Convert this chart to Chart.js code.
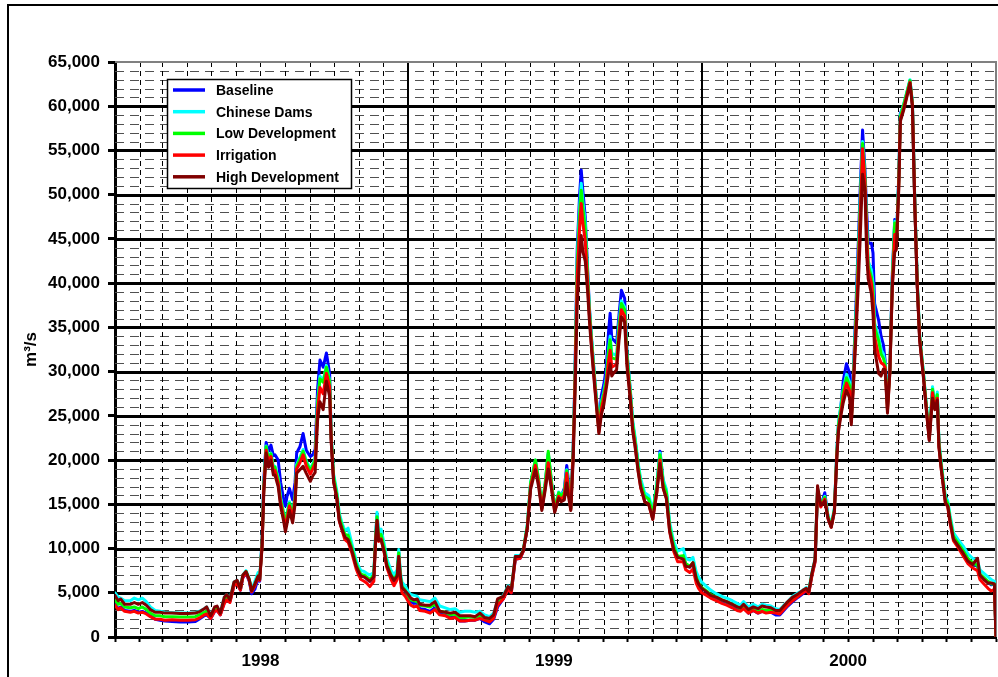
<!DOCTYPE html>
<html>
<head>
<meta charset="utf-8">
<title>Mekong discharge scenarios 1998-2000</title>
<script src="https://cdn.jsdelivr.net/npm/chart.js@4"></script>
<style>
  html, body { margin: 0; padding: 0; background: #fff; }
  canvas { display: block; }
</style>
</head>
<body>
<canvas id="flow" width="998" height="677"></canvas>
<script>
// Day number counted from 1 January 1998
const days = [
  0,4,7,12,19,24,29,34,39,44,
  50,56,62,71,81,91,100,106,111,114,
  119,124,127,131,136,139,143,148,152,156,
  159,163,167,170,174,178,180,183,185,188,
  191,194,197,199,203,206,210,212,214,217,
  221,224,226,230,234,238,243,246,249,252,
  255,259,263,267,269,272,276,279,282,286,
  290,294,297,300,303,306,310,313,317,322,
  324,326,328,331,335,338,343,347,351,353,
  355,357,361,365,
  368,372,376,379,386,392,398,404,411,417,
  423,429,435,442,448,454,460,466,471,476,
  483,489,493,498,504,508,513,517,523,527,
  531,535,539,543,547,552,555,559,562,564,
  567,570,572,575,578,580,582,585,588,590,
  593,597,602,605,608,611,614,616,618,620,
  624,627,630,634,637,641,644,647,651,654,
  659,664,669,674,678,682,686,690,695,700,
  707,710,715,719,723,726,730,
  736,741,748,755,761,768,774,778,782,788,
  794,800,805,810,816,822,827,832,837,843,
  850,856,860,863,867,871,874,878,881,883,
  887,891,895,898,900,903,906,910,914,916,
  919,922,925,927,930,933,935,937,941,943,
  945,950,953,956,958,961,964,967,970,972,
  975,977,981,985,989,992,995,998,1001,1006,
  1010,1013,1017,1020,1023,1025,1028,1033,1036,1039,
  1043,1049,1055,1061,1067,1073,1076,1081,1086,1090,
  1094,1096
];

// Discharge, m3/s
const baseline = [
  3700,3200,3400,3000,2900,3000,2800,2900,2700,2400,
  2000,1900,1800,1750,1700,1700,1750,2100,2400,2500,
  2100,2900,3000,2500,3900,4200,4000,5800,6100,5300,
  6700,7200,6300,4900,5400,6600,6300,11000,17500,22000,
  21000,21700,20500,20600,20000,17500,15500,14800,15900,16800,
  15500,17500,20800,21500,23000,21100,20400,20600,21200,28000,
  31300,30500,32100,29800,22500,17800,15800,13300,12300,11300,
  11000,10000,9000,8000,7400,6900,6800,6600,6300,6800,
  11000,13900,11300,11800,10000,8400,7100,6400,7000,9600,
  7000,5600,5200,4500,
  4000,3800,3900,3200,3100,2900,3300,2600,2500,2200,
  2300,1800,1800,1900,1900,2100,1700,1500,2000,3400,
  4300,5500,5000,8800,8900,9700,12500,17200,19600,17600,
  14600,17000,20700,17400,14400,16300,15900,16800,19400,17700,
  14600,21500,28800,43800,50000,52800,50500,47500,41500,37500,
  33500,28800,23800,27300,28500,30300,34500,36600,33800,33600,
  33200,36400,39200,38300,32000,27900,24200,22300,19300,17500,
  15900,15600,13900,17000,21000,17500,16300,12500,10300,9000,
  9100,8200,7900,8300,6700,6000,5500,
  5100,4700,4400,4100,3900,3600,3300,3000,3300,2700,
  3000,2700,2900,2800,2800,2500,2500,3000,3500,4000,
  4500,4900,5300,5000,7000,8600,16500,14800,15700,16300,
  13600,12500,14400,21000,24000,26000,29000,30900,29800,24800,
  31000,38000,45300,50500,57300,52800,48300,44500,44500,43400,
  37700,35800,34000,33000,31300,26500,30500,41000,47200,44500,
  52000,59200,60000,61400,62900,60300,49000,40000,33900,29400,
  25300,22500,27900,26000,27300,21800,19200,15500,15000,13200,
  11300,10500,9700,8800,8300,8000,7000,6600,6200,5900,
  6000,0
];

const chineseDams = [
  5000,4500,4400,4100,4100,4400,4200,4400,4000,3400,
  3000,2900,2800,2750,2700,2700,2750,2950,3200,3400,
  2500,3300,3400,2800,4500,4800,4300,6200,6400,5600,
  7000,7500,6600,5300,6300,7300,6800,10800,17000,21600,
  20200,20800,19300,19300,18000,15800,14000,13000,14000,15300,
  14000,16000,19500,20300,21200,19900,19000,19600,20200,26500,
  29500,29000,30700,29000,22700,18400,16500,14000,13000,12000,
  12300,10800,9700,8700,8000,7500,7400,7200,7000,7300,
  11200,14100,11600,12200,10500,8900,7600,7000,7600,9900,
  7400,6200,5800,5100,
  4800,4700,4600,4200,4100,4000,4400,3500,3300,3100,
  3200,2800,2900,2900,2800,2900,2500,2300,2700,4100,
  4700,5800,5400,9200,9200,9900,12800,17500,20000,17900,
  14900,17300,20800,17600,14600,16400,16000,16600,18900,17200,
  14500,21200,28300,42700,48600,51300,49300,46800,41000,37300,
  33600,29000,23600,26500,27700,29200,32500,34000,32000,32000,
  31800,35500,38000,37300,32000,28100,24500,22600,19600,17900,
  16300,16000,14300,17300,20800,17800,16700,13000,10800,9700,
  10000,8900,8700,9000,7400,6800,6200,
  5700,5300,4900,4600,4400,4100,3800,3600,4000,3400,
  3700,3400,3700,3600,3500,3200,3100,3600,4000,4600,
  5000,5300,5600,5300,7300,8900,16800,15000,15500,15900,
  13700,12700,14600,21000,24200,26200,28000,29700,28800,24700,
  30300,37000,44000,49300,56000,52100,47000,42500,41500,40000,
  35500,34000,32500,32000,31000,26300,30300,40500,47000,44400,
  51800,59000,60200,61600,63000,60500,49300,40300,34200,29700,
  25600,22800,28300,26300,27700,22200,19600,15900,15400,13700,
  11800,11000,10300,9400,8900,8600,7600,7200,6800,6500,
  6300,0
];

const lowDevelopment = [
  4200,3700,3800,3400,3300,3400,3200,3400,3100,2700,
  2400,2400,2300,2300,2250,2250,2300,2550,2800,2900,
  2300,3100,3200,2600,4100,4500,4100,6000,6200,5400,
  6900,7400,6500,5200,5900,6900,6500,10600,16800,21500,
  20000,20700,19000,19200,17800,15600,13800,12800,13800,15100,
  13800,15800,19300,20100,21000,19700,18800,19400,20000,26300,
  29200,28800,30500,28900,22500,18100,16100,13600,12700,11600,
  11500,10300,9300,8300,7600,7100,7000,6800,6500,7000,
  10900,13600,11200,11600,10000,8400,7100,6500,7100,9500,
  7000,5700,5300,4600,
  4200,4100,4000,3600,3500,3400,3700,2900,2800,2500,
  2600,2200,2200,2300,2200,2400,2000,1900,2300,3800,
  4500,5600,5200,9000,9000,9800,12600,17400,20000,17800,
  14800,17200,21000,17500,14500,16300,15900,16400,18800,17100,
  14500,21000,28000,42000,47800,50500,48600,46200,40800,37100,
  33300,28700,23400,26300,27500,29000,32300,33600,31600,31500,
  31400,35100,37700,37000,31600,27700,24100,22200,19200,17400,
  15900,15600,13900,17000,20600,17400,16300,12500,10300,9100,
  9200,8300,8000,8400,6800,6100,5600,
  5200,4800,4500,4200,4000,3700,3400,3200,3500,2900,
  3200,2900,3100,3000,3000,2800,2800,3300,3700,4200,
  4700,5100,5400,5100,7100,8700,16700,14900,15400,15800,
  13600,12500,14400,20800,23900,25800,27800,29300,28400,24500,
  30000,36500,43500,48600,55800,51900,46500,42000,40700,39300,
  35000,33500,32000,31500,30800,26000,30200,40300,46800,44300,
  51500,58800,60100,61500,62900,60300,49000,40100,34000,29500,
  25400,22600,28000,26100,27400,21900,19300,15600,15100,13300,
  11400,10600,9800,8900,8400,8100,7100,6700,6300,6000,
  6000,0
];

const irrigation = [
  3600,3100,3300,2900,2800,2900,2700,2800,2600,2300,
  2000,2000,1900,1950,1900,1900,1950,2200,2500,2600,
  2100,2900,3000,2500,3800,4200,3900,5800,6000,5300,
  6700,7300,6400,5100,5800,6800,6400,10400,16500,21100,
  19700,20400,18700,18800,17400,15200,13400,12400,13300,14800,
  13400,15500,19000,19700,20600,19300,18400,19000,19600,25500,
  28200,27500,29800,28300,22200,17600,15600,13100,12200,11000,
  10700,9700,8700,7700,7000,6500,6300,6100,5700,6300,
  10400,13100,10800,11100,9500,7900,6600,5800,6500,9100,
  6500,5000,4600,4000,
  3600,3400,3500,3000,2900,2700,3100,2500,2400,2100,
  2200,1800,1800,1900,1900,2100,1900,1700,2100,3600,
  4300,5400,5000,8800,8900,9700,12400,17000,19400,17400,
  14500,16800,19700,17000,14200,15900,15500,16000,18500,16700,
  14400,20700,27500,40700,46300,49000,46800,44800,40000,36600,
  32800,28300,23200,25700,27000,28400,31200,32400,30500,30600,
  30800,34300,37000,36300,31000,27200,23600,21700,18700,16900,
  15300,15000,13300,16400,20000,16800,15700,11900,9700,8500,
  8500,7600,7300,7700,6100,5500,5000,
  4700,4400,4100,3800,3600,3300,3000,2900,3200,2700,
  3000,2700,2900,2700,2800,2700,2600,3100,3600,4100,
  4600,5000,5300,4900,6900,8500,16500,14700,15200,15600,
  13400,12400,14200,20500,23500,25300,27200,28700,27800,24300,
  29500,35500,42500,47500,55200,51500,45800,41500,40000,38200,
  34000,31700,31000,30800,30500,25600,30000,39800,45500,44000,
  51000,58500,59700,61200,62700,60100,48800,39800,33700,29200,
  25100,22300,27600,25800,27000,21500,18900,15200,14700,12800,
  10900,10100,9200,8300,7800,7500,6500,6000,5500,5200,
  5400,0
];

const highDevelopment = [
  4700,4100,4300,3700,3700,3900,3700,3900,3600,3100,
  2800,2800,2700,2700,2650,2650,2700,2900,3200,3400,
  2400,3400,3500,2700,4500,4800,4200,6200,6400,5500,
  7000,7400,6500,5200,6000,6900,6500,10200,16000,20800,
  19200,20000,18300,18300,17000,14800,13000,11900,12800,14300,
  12900,15000,18500,18900,19300,18500,17600,18200,18600,24500,
  26600,25700,28900,27200,22000,17500,15700,13200,12300,11300,
  11000,10000,9000,8000,7400,6900,6800,6600,6300,6800,
  10500,13200,10900,11000,9600,8100,7000,6400,6900,9100,
  6800,5600,5200,4800,
  4400,4200,4300,3700,3600,3600,4000,2900,2800,2700,
  2800,2400,2400,2400,2300,2700,2200,2100,2500,4300,
  4600,5700,5300,9100,9100,9800,12300,16700,18900,17000,
  14300,16500,19000,16700,14100,15700,15300,15500,17400,16000,
  14300,20000,26500,37500,43000,45400,43600,42500,39000,36000,
  32300,28000,23000,25100,26200,28000,29800,30900,29500,29800,
  30200,33500,36200,35600,30500,26800,23300,21500,18600,16900,
  15300,15000,13300,16300,19600,16800,15600,12000,9900,9000,
  8800,8000,7900,8400,6600,6000,5500,
  5100,4700,4500,4200,4000,3700,3400,3300,3700,3100,
  3400,3200,3500,3400,3300,3000,3000,3500,4000,4500,
  4900,5300,5500,5100,7200,8800,17100,14900,15100,15400,
  13400,12400,14200,20300,23200,25000,26500,27900,27000,24000,
  29000,34500,40500,45000,52300,50500,43500,40500,38800,36500,
  32500,29800,29500,30300,30200,25300,30000,39500,43500,43800,
  50500,58300,59500,61000,62600,60000,48700,39700,33600,29100,
  25000,22200,27000,25700,26800,21500,18900,15200,14800,13000,
  11100,10300,9500,8600,8200,8900,7000,6500,6100,6100,
  6000,0
];

const seriesNames  = ['Baseline', 'Chinese Dams', 'Low Development', 'Irrigation', 'High Development'];
const seriesValues = [baseline, chineseDams, lowDevelopment, irrigation, highDevelopment];
const seriesColors = ['#0000ff', '#00ffff', '#00ff00', '#ff0000', '#800000'];
const yearLabels   = ['1998', '1999', '2000'];
const yMax = 65000, yMajor = 5000, yMinor = 1000;

// First day of every month on the day-number scale, plus the closing day
const origin = Date.UTC(1998, 0, 1);
const monthTicks = [];
yearLabels.forEach((yr, yi) => {
  for (let m = 0; m < 12; m++) monthTicks.push((Date.UTC(1998 + yi, m, 1) - origin) / 864e5);
});
monthTicks.push((Date.UTC(1998 + yearLabels.length, 0, 1) - origin) / 864e5);
const dayMax = monthTicks[monthTicks.length - 1];

const FONT = "'Liberation Sans', Arial, Helvetica, sans-serif";
const withCommas = v => String(v).replace(/\B(?=(\d{3})+(?!\d))/g, ',');

// White page with the outer frame
const framePlugin = {
  id: 'frame',
  beforeDraw(chart) {
    const ctx = chart.ctx;
    ctx.save();
    ctx.fillStyle = '#fff';
    ctx.fillRect(0, 0, chart.width, chart.height);
    ctx.strokeStyle = '#000';
    ctx.lineWidth = 2;
    ctx.beginPath();
    ctx.moveTo(8, chart.height + 2);
    ctx.lineTo(8, 5);
    ctx.lineTo(chart.width + 2, 5);
    ctx.stroke();
    ctx.restore();
  }
};

// Dashed minor grid, solid major grid, plot-area border
const gridPlugin = {
  id: 'grid',
  beforeDatasetsDraw(chart) {
    const { ctx, chartArea: a, scales: { x, y } } = chart;
    ctx.save();
    ctx.beginPath();
    ctx.rect(a.left, a.top - 2, a.right - a.left + 2, a.bottom - a.top + 2);
    ctx.clip();

    ctx.lineWidth = 1;
    ctx.strokeStyle = '#505050';
    ctx.setLineDash([9, 6]);
    for (let v = yMinor; v < yMax; v += yMinor) {
      if (v % yMajor === 0) continue;
      const py = Math.round(y.getPixelForValue(v)) + 0.5;
      ctx.beginPath(); ctx.moveTo(a.left, py); ctx.lineTo(a.right, py); ctx.stroke();
    }

    ctx.strokeStyle = '#000';
    ctx.setLineDash([5, 4]);
    monthTicks.forEach((d, i) => {
      if (i % 12 === 0) return;
      const px = Math.round(x.getPixelForValue(d)) + 0.5;
      ctx.beginPath(); ctx.moveTo(px, a.top); ctx.lineTo(px, a.bottom); ctx.stroke();
    });
    ctx.setLineDash([]);

    ctx.lineWidth = 3;
    for (let v = yMajor; v < yMax; v += yMajor) {
      const py = Math.round(y.getPixelForValue(v)) + 0.5;
      ctx.beginPath(); ctx.moveTo(a.left, py); ctx.lineTo(a.right, py); ctx.stroke();
    }
    ctx.lineWidth = 2;
    monthTicks.forEach((d, i) => {
      if (i % 12 !== 0 || i === 0 || i === monthTicks.length - 1) return;
      const px = Math.round(x.getPixelForValue(d));
      ctx.beginPath(); ctx.moveTo(px, a.top); ctx.lineTo(px, a.bottom); ctx.stroke();
    });

    ctx.strokeStyle = '#808080';
    ctx.lineWidth = 2;
    ctx.beginPath();
    ctx.moveTo(a.left, a.top);
    ctx.lineTo(a.right, a.top);
    ctx.lineTo(a.right, a.bottom);
    ctx.stroke();
    ctx.restore();
  }
};

// Boxed legend inside the plot and the rotated axis title
const legendPlugin = {
  id: 'boxLegend',
  afterDatasetsDraw(chart) {
    const ctx = chart.ctx;
    const box = { left: 167, top: 79, width: 184, height: 109 };
    ctx.save();
    ctx.fillStyle = '#fff';
    ctx.fillRect(box.left, box.top, box.width, box.height);
    ctx.strokeStyle = '#000';
    ctx.lineWidth = 1.5;
    ctx.strokeRect(box.left + 0.5, box.top + 0.5, box.width, box.height);
    ctx.font = 'bold 14px ' + FONT;
    ctx.textBaseline = 'middle';
    ctx.textAlign = 'left';
    chart.data.datasets.forEach((ds, i) => {
      const cy = box.top + 11 + i * 21.7;
      ctx.strokeStyle = ds.borderColor;
      ctx.lineWidth = 3.5;
      ctx.beginPath(); ctx.moveTo(box.left + 6, cy); ctx.lineTo(box.left + 38, cy); ctx.stroke();
      ctx.fillStyle = '#000';
      ctx.fillText(ds.label, box.left + 49, cy + 1);
    });
    ctx.restore();
  },
  afterDraw(chart) {
    const ctx = chart.ctx;
    const a = chart.chartArea;
    ctx.save();
    ctx.translate(31, (a.top + a.bottom) / 2);
    ctx.rotate(-Math.PI / 2);
    ctx.font = 'bold 17px ' + FONT;
    ctx.fillStyle = '#000';
    ctx.textAlign = 'center';
    ctx.textBaseline = 'middle';
    ctx.fillText('m\u00b3/s', 0, 0);
    ctx.restore();
  }
};

new Chart(document.getElementById('flow'), {
  type: 'line',
  data: {
    datasets: seriesNames.map((name, i) => ({
      label: name,
      data: days.map((d, k) => ({ x: d, y: seriesValues[i][k] })),
      borderColor: seriesColors[i],
      backgroundColor: seriesColors[i],
      borderWidth: 3,
      borderJoinStyle: 'round',
      borderCapStyle: 'round',
      pointRadius: 0,
      tension: 0,
      fill: false,
      order: seriesNames.length - i
    }))
  },
  options: {
    responsive: false,
    animation: false,
    devicePixelRatio: 1,
    layout: { padding: { top: 62, right: 2, left: 0, bottom: 0 } },
    plugins: { legend: { display: false }, tooltip: { enabled: false } },
    scales: {
      x: {
        type: 'linear',
        min: 0,
        max: dayMax,
        afterBuildTicks(scale) { scale.ticks = monthTicks.map(v => ({ value: v })); },
        afterFit(scale) {
          scale.height = 40;
          // year labels sit well inside the axis, so no side overhang is needed
          scale.paddingLeft = 0;
          scale.paddingRight = 0;
        },
        ticks: {
          autoSkip: false,
          maxRotation: 0,
          padding: 9,
          color: '#000',
          font: { family: FONT, size: 17, weight: 'bold' },
          callback: (v, i) => (i % 12 === 6 ? yearLabels[Math.floor(i / 12)] : '')
        },
        grid: { drawOnChartArea: false, color: '#000', tickLength: 5, tickWidth: 2 },
        border: { color: '#000', width: 3 }
      },
      y: {
        min: 0,
        max: yMax,
        afterFit(scale) { scale.width = 115; },
        ticks: {
          stepSize: yMajor,
          padding: 8,
          color: '#000',
          font: { family: FONT, size: 17, weight: 'bold' },
          callback: v => withCommas(v)
        },
        grid: { drawOnChartArea: false, color: '#000', tickLength: 7, tickWidth: 3 },
        border: { color: '#000', width: 3 }
      }
    }
  },
  plugins: [framePlugin, gridPlugin, legendPlugin]
});
</script>
</body>
</html>
